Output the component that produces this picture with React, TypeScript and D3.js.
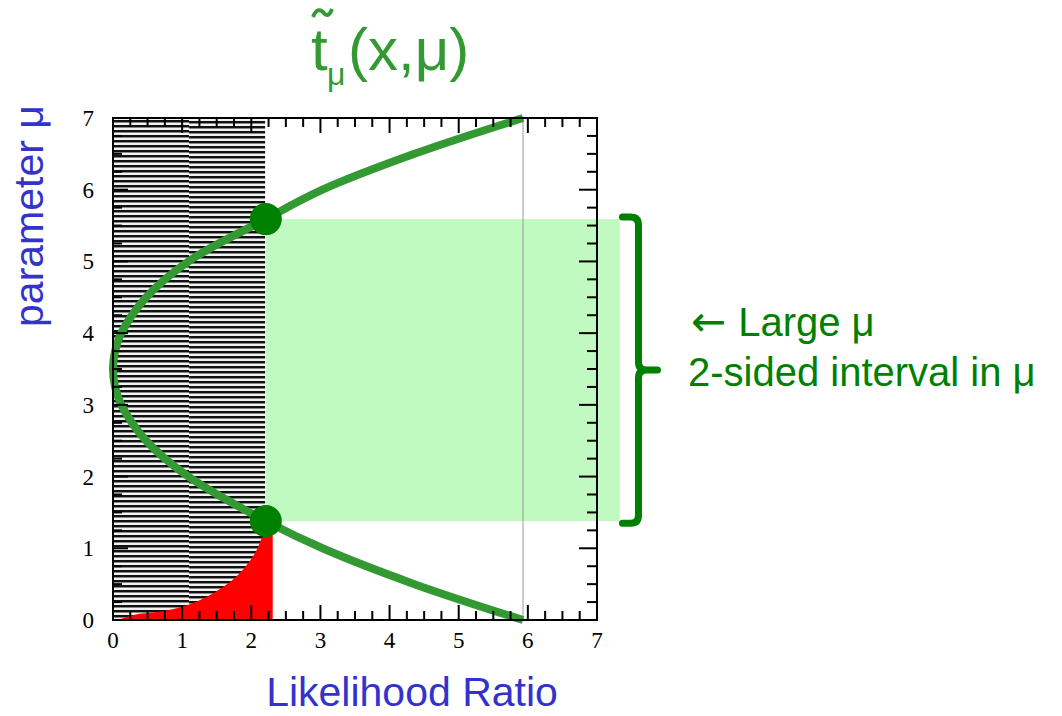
import React from "react";
import * as d3 from "d3";

// ---- data ----
const xTickLabels = ["0", "1", "2", "3", "4", "5", "6", "7"];
const yTickLabels = ["0", "1", "2", "3", "4", "5", "6", "7"];
const xTickValues = [0, 1, 2, 3, 4, 5, 6, 7];
const yTickValues = [0, 1, 2, 3, 4, 5, 6, 7];

// green curve t~mu(x,mu): parameter mu vs likelihood-ratio x
const curveMu = [7, 6.5, 6, 5.59, 5, 4.5, 4, 3.75, 3.5, 3.25, 3, 2.5, 2, 1.38, 1, 0.5, 0];
const curveX = [5.93, 4.36, 3.03, 2.21, 1.09, 0.48, 0.12, 0.03, 0, 0.03, 0.12, 0.48, 1.09, 2.21, 3.03, 4.36, 5.93];

// red filled region (distribution tail)
const redX = [0.07, 0.3, 0.64, 1.11, 1.59, 1.84, 2.08, 2.17, 2.31];
const redY = [0, 0.07, 0.11, 0.22, 0.46, 0.66, 0.98, 1.16, 1.2];

// hatched region (acceptance region in x)
const hatchX = [0, 2.2];

// interval in mu
const intervalLow = 1.38;
const intervalHigh = 5.59;
const intervalXStart = 2.21;
const intervalXEnd = 7.33;
const pointX = [2.21, 2.21];
const pointMu = [5.59, 1.38];

// curve end reference line
const refLineX = 5.93;

// bracket
const bracketX = 7.6;
const bracketTop = 5.62;
const bracketBottom = 1.35;

const W = 1062;
const H = 716;

export default function App() {
  const x = d3.scaleLinear().domain([0, 7]).range([113, 597]);
  const y = d3.scaleLinear().domain([0, 7]).range([620, 118]);

  const curvePts: [number, number][] = curveMu.map((m, i) => [curveX[i], m]);
  const line = d3
    .line<[number, number]>()
    .x((d) => x(d[0]))
    .y((d) => y(d[1]))
    .curve(d3.curveCatmullRom.alpha(0.5));

  const redPts: [number, number][] = redX.map((v, i) => [v, redY[i]]);
  const area = d3
    .area<[number, number]>()
    .x((d) => x(d[0]))
    .y0(y(0))
    .y1((d) => y(d[1]))
    .curve(d3.curveMonotoneX);

  const minor = d3.range(0, 7.0001, 0.25);
  const isMajor = (v: number) => Math.abs(v - Math.round(v)) < 1e-6;

  const green = "#339933";
  const dark = "#008000";
  const blue = "#3333cc";

  const bx = x(bracketX);
  const bt = y(bracketTop);
  const bb = y(bracketBottom);
  const bm = (bt + bb) / 2;
  const r = 8;
  const hook = 16;
  const tip = 19;
  const bracketPath = [
    `M${bx - hook},${bt} L${bx - r},${bt} Q${bx},${bt} ${bx},${bt + r}`,
    `L${bx},${bm - r} Q${bx},${bm} ${bx + r},${bm} L${bx + tip},${bm}`,
    `M${bx + r},${bm} Q${bx},${bm} ${bx},${bm + r}`,
    `L${bx},${bb - r} Q${bx},${bb} ${bx - r},${bb} L${bx - hook},${bb}`,
  ].join(" ");

  return (
    <svg
      width={W}
      height={H}
      style={{ position: "absolute", left: 0, top: 0, background: "#fff" }}
      fontFamily="'Liberation Sans', Arial, sans-serif"
    >
      <defs>
        <pattern id="hatch" patternUnits="userSpaceOnUse" width="8" height="5">
          <rect x="0" y="0" width="8" height="5" fill="#f2f2f2" />
          <rect x="0" y="0" width="8" height="2" fill="#111" />
          <rect x="0" y="2" width="8" height="1" fill="#888" />
        </pattern>
        <pattern id="hatch2" patternUnits="userSpaceOnUse" width="8" height="5" y="1">
          <rect x="0" y="0" width="8" height="5" fill="#f2f2f2" />
          <rect x="0" y="0" width="8" height="2" fill="#111" />
          <rect x="0" y="2" width="8" height="1" fill="#888" />
        </pattern>
      </defs>
      <rect x={0} y={0} width={W} height={H} fill="#fff" />

      {/* hatched region */}
      <rect
        x={x(hatchX[0])}
        y={y(7)}
        width={x(1.1) - x(hatchX[0])}
        height={y(0) - y(7)}
        fill="url(#hatch)"
      />
      <rect
        x={x(1.1)}
        y={y(7)}
        width={x(hatchX[1]) - x(1.1)}
        height={y(0) - y(7)}
        fill="url(#hatch2)"
      />

      {/* interval band */}
      <rect
        x={x(intervalXStart)}
        y={y(intervalHigh)}
        width={x(intervalXEnd) - x(intervalXStart)}
        height={y(intervalLow) - y(intervalHigh)}
        fill="#c0fac0"
      />

      {/* reference line */}
      <line x1={x(refLineX)} x2={x(refLineX)} y1={y(0)} y2={y(7)} stroke="#999" strokeWidth={1} />

      {/* red area */}
      <path d={area(redPts) || ""} fill="#ff0000" />

      {/* curve */}
      <path d={line(curvePts) || ""} fill="none" stroke={green} strokeWidth={8} />

      {/* points */}
      {pointX.map((px, i) => (
        <circle key={i} cx={x(px)} cy={y(pointMu[i])} r={16} fill={dark} />
      ))}

      {/* frame */}
      <rect
        x={x(0)}
        y={y(7)}
        width={x(7) - x(0)}
        height={y(0) - y(7)}
        fill="none"
        stroke="#000"
        strokeWidth={2}
      />
      {/* ticks */}
      <g stroke="#000" strokeWidth={2}>
        {minor.map((v) => {
          const L = isMajor(v) ? 15 : 9;
          return (
            <g key={"t" + v}>
              <line x1={x(v)} x2={x(v)} y1={y(0)} y2={y(0) - L} />
              <line x1={x(v)} x2={x(v)} y1={y(7)} y2={y(7) + L} />
              <line x1={x(0)} x2={x(0) + L} y1={y(v)} y2={y(v)} />
              <line x1={x(7)} x2={x(7) - (isMajor(v) ? 18 : 10)} y1={y(v)} y2={y(v)} />
            </g>
          );
        })}
      </g>

      {/* tick labels */}
      <g fontFamily="'Liberation Serif', 'Times New Roman', serif" fontSize={23} fill="#000">
        {xTickValues.map((v, i) => (
          <text key={"xl" + v} x={x(v)} y={648} textAnchor="middle">
            {xTickLabels[i]}
          </text>
        ))}
        {yTickValues.map((v, i) => (
          <text key={"yl" + v} x={94} y={y(v) + 8} textAnchor="end">
            {yTickLabels[i]}
          </text>
        ))}
      </g>

      {/* bracket */}
      <path d={bracketPath} fill="none" stroke={dark} strokeWidth={7} strokeLinecap="round" />

      {/* annotation */}
      <g fill={dark} fontSize={40}>
        <text x={691} y={336}>
          <tspan fontFamily="'DejaVu Sans', sans-serif" fontSize={42}>←</tspan>
          <tspan dx={12}>Large μ</tspan>
        </text>
        <text x={688} y={386}>2-sided interval in μ</text>
      </g>

      {/* title */}
      <g fill={green}>
        <text x={311} y={70} fontSize={60}>t</text>
        <text x={327} y={85} fontSize={32}>μ</text>
        <text x={348} y={70} fontSize={60}>(x,μ)</text>
        <path d="M313,17 C316,9 320,9 323,12 C326,16 329,17 332,9" fill="none" stroke={green} strokeWidth={4} />
      </g>

      {/* axis titles */}
      <text x={412} y={706} textAnchor="middle" fontSize={41} fill={blue}>
        Likelihood Ratio
      </text>
      <text
        transform="translate(43,216) rotate(-90)"
        textAnchor="middle"
        fontSize={41}
        fill={blue}
      >
        parameter μ
      </text>
    </svg>
  );
}
